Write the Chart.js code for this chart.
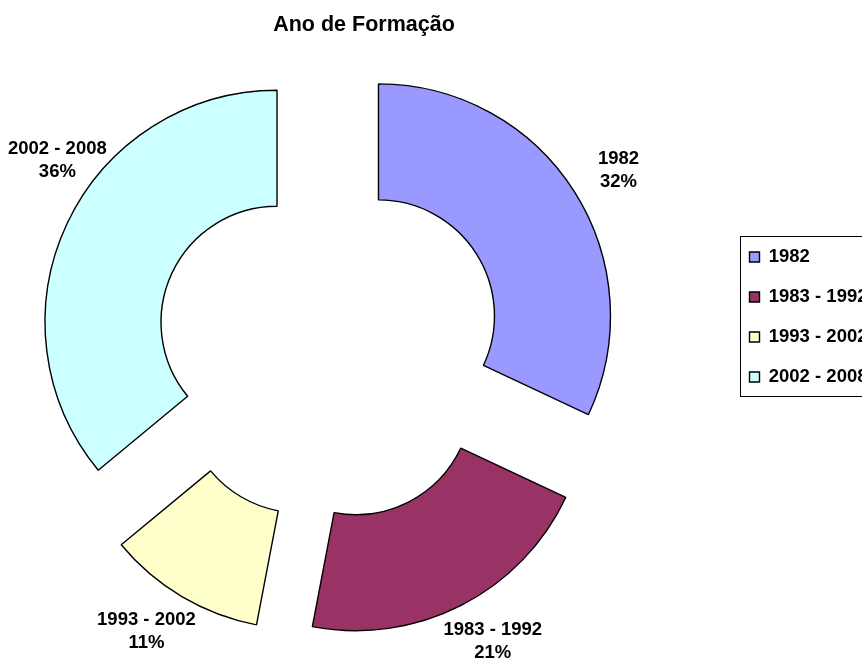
<!DOCTYPE html>
<html>
<head>
<meta charset="utf-8">
<title>Ano de Formação</title>
<script src="https://cdn.jsdelivr.net/npm/chart.js@4.4.1/dist/chart.umd.min.js"></script>
<style>
    html, body { margin: 0; padding: 0; background: #fff; overflow: hidden; }
    body { width: 862px; height: 658px; position: relative; }
    #formationChart { position: absolute; left: -69px; top: 0; }
</style>
</head>
<body>
<canvas id="formationChart" width="937" height="658"></canvas>
<script>
// Ano de Formação - exploded doughnut

const chartTitle = 'Ano de Formação';
const categories = ['1982', '1983 - 1992', '1993 - 2002', '2002 - 2008'];
const percentValues = [32, 21, 11, 36];
const sliceColors = ['#9999FF', '#993366', '#FFFFCC', '#CCFFFF'];

const FONT = "'Liberation Sans', Arial, Helvetica, sans-serif";
const PAGE_SHIFT = 69;     // canvas starts left of the page so the legend can run off the right edge
const EXPLODE = 58;        // how far each slice is pulled out
const LABEL_RADIUS = 330;  // label distance from the centre
const LABEL_PUSH = 0.6;    // extra sideways push, in half label widths

// Pull every slice out along its own middle angle
const explodePlugin = {
    id: 'explode',
    afterDatasetsUpdate(chart) {
        chart.getDatasetMeta(0).data.forEach(arc => {
            const mid = (arc.startAngle + arc.endAngle) / 2;
            arc.x += Math.cos(mid) * EXPLODE;
            arc.y += Math.sin(mid) * EXPLODE;
        });
    }
};

// "name / percent" labels outside each slice
const sliceLabelPlugin = {
    id: 'sliceLabels',
    afterDatasetsDraw(chart) {
        const ctx = chart.ctx;
        const area = chart.chartArea;
        const cx = (area.left + area.right) / 2;
        const cy = (area.top + area.bottom) / 2;
        const total = percentValues.reduce((a, b) => a + b, 0);

        ctx.save();
        ctx.font = 'bold 18.5px ' + FONT;
        ctx.fillStyle = '#000';
        ctx.textAlign = 'center';
        ctx.textBaseline = 'middle';

        chart.getDatasetMeta(0).data.forEach((arc, i) => {
            const mid = (arc.startAngle + arc.endAngle) / 2;
            const pct = Math.round(percentValues[i] / total * 100) + '%';
            const halfW = ctx.measureText(categories[i]).width / 2;
            let x = cx + Math.cos(mid) * (LABEL_RADIUS + LABEL_PUSH * halfW);
            let y = cy + Math.sin(mid) * LABEL_RADIUS;

            // keep it on the page: slide along the circle
            const minX = PAGE_SHIFT + 8 + halfW;
            if (x < minX) {
                const side = y < cy ? -1 : 1;
                x = minX;
                y = cy + side * Math.sqrt(LABEL_RADIUS * LABEL_RADIUS - (x - cx) * (x - cx));
            }

            ctx.fillText(categories[i], x, y - 11.5);
            ctx.fillText(pct, x, y + 11.5);
        });
        ctx.restore();
    }
};

// Title centred over the part of the page left of the legend,
// plus a border round the legend items
const titleAndFramePlugin = {
    id: 'titleAndFrame',
    afterDraw(chart) {
        const ctx = chart.ctx;
        const legend = chart.legend;

        ctx.save();
        ctx.font = 'bold 21.5px ' + FONT;
        ctx.fillStyle = '#000';
        ctx.textAlign = 'center';
        ctx.textBaseline = 'middle';
        ctx.fillText(chartTitle, (PAGE_SHIFT + legend.left) / 2, 25);

        const boxes = legend.legendHitBoxes;
        if (boxes && boxes.length) {
            const first = boxes[0];
            const last = boxes[boxes.length - 1];
            const left = Math.round(first.left - 10) + 0.5;
            const top = Math.round(first.top - 12) + 0.5;
            const bottom = Math.round(last.top + last.height + 10) + 0.5;
            ctx.strokeStyle = '#000';
            ctx.lineWidth = 1;
            ctx.strokeRect(left, top, chart.width + 20 - left, bottom - top);
        }
        ctx.restore();
    }
};

const chartCtx = document.getElementById('formationChart');

new Chart(chartCtx, {
    type: 'doughnut',
    data: {
        labels: categories,
        datasets: [{
            data: percentValues,
            backgroundColor: sliceColors,
            borderColor: '#000',
            borderWidth: 1.4,
            clip: false
        }]
    },
    options: {
        responsive: false,
        animation: false,
        radius: 232,
        cutout: '50%',
        layout: {
            // top/bottom put the ring centre at y=347 and the legend rows where they belong
            padding: { left: 0, right: 0, top: 226.25, bottom: 190.25 }
        },
        plugins: {
            title: { display: false },
            legend: {
                position: 'right',
                align: 'start',
                maxWidth: 140,
                labels: {
                    color: '#000',
                    font: { family: FONT, size: 18.5, weight: 'bold' },
                    boxWidth: 10,
                    boxHeight: 10,
                    padding: 21.5
                }
            },
            tooltip: { enabled: false }
        }
    },
    plugins: [explodePlugin, sliceLabelPlugin, titleAndFramePlugin]
});
</script>
</body>
</html>
